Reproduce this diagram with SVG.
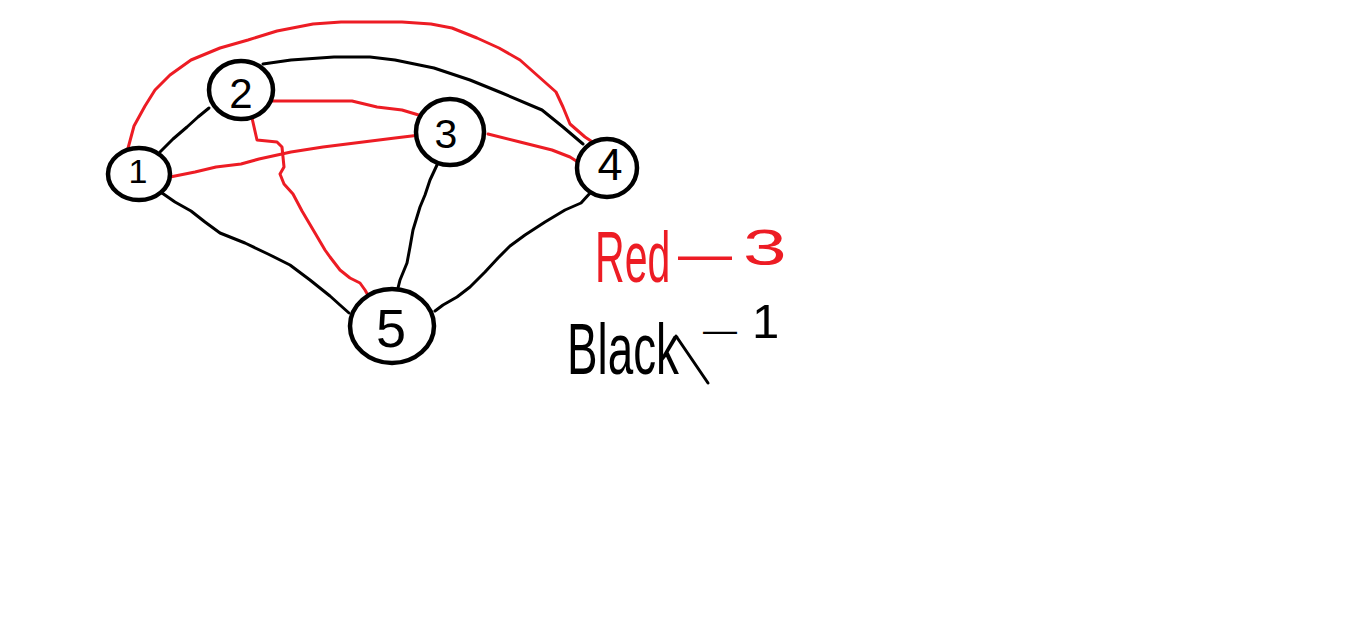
<svg xmlns="http://www.w3.org/2000/svg" width="1360" height="623" viewBox="0 0 1360 623">
<style>
.e{fill:none;stroke-width:3;stroke-linejoin:round;stroke-linecap:round}
.r{stroke:#ed1c24}
.k{stroke:#000}
.n{fill:#fff;stroke:#000;stroke-width:4.5}
.lbl{font-family:"Liberation Sans",Arial,sans-serif;fill:#000;text-anchor:middle}
.leg{font-family:"Liberation Sans",Arial,sans-serif}
.red{fill:#ed1c24}
.blk{fill:#000}
</style>
<rect width="1360" height="623" fill="#fff"/>
<g id="connectors">
<path id="e1-4" class="e r" d="M127,152 L134,126 L145,106 L155,90 L170,75 L191,60 L220,48 L248,40 L277,31 L313,24 L341,22 L402,22 L431,24 L452,28 L477,38 L499,48 L520,60 L538,76 L556,92 L563,107 L570,124 L585,137 L594,143"/>
<path id="e2-4" class="e k" d="M263,64 L291,60 L334,57 L370,57 L395,60 L434,68 L470,80 L502,93 L542,110 L563,127 L583,144"/>
<path id="e2-3" class="e r" d="M273,101 L352,101 L377,107 L402,110 L422,116"/>
<path id="e1-3" class="e r" d="M170,177 L195,172 L216,167 L241,164 L259,159 L291,152 L323,147 L363,142 L395,138 L420,135"/>
<path id="e3-4" class="e r" d="M488,134 L520,142 L552,150 L570,157 L581,164"/>
<path id="e1-2" class="e k" d="M160,152 L173,139 L187,127 L198,117 L209,108"/>
<path id="e2-5" class="e r" d="M252,118 L257,140 L277,142 L282,147 L284,167 L280,174 L284,184 L293,194 L302,211 L315,233 L325,250 L330,257 L340,270 L350,278 L360,283 L365,290 L369,297"/>
<path id="e3-5" class="e k" d="M437,165 L430,180 L425,195 L420,207 L413,230 L410,247 L407,263 L400,280 L398,288"/>
<path id="e4-5" class="e k" d="M591,192 L581,203 L565,210 L545,222 L525,235 L510,246 L498,258 L485,272 L470,287 L457,297 L443,305 L435,311"/>
<path id="e1-5" class="e k" d="M162,193 L175,202 L191,211 L205,222 L220,233 L245,243 L268,254 L290,265 L310,280 L330,296 L340,305 L349,313"/>
</g>
<g id="node1"><ellipse class="n" cx="139" cy="174" rx="31" ry="26"/><text class="lbl" x="138" y="183" font-size="34">1</text></g>
<g id="node2"><ellipse class="n" cx="241" cy="90" rx="32" ry="29"/><text class="lbl" x="241" y="108" font-size="42">2</text></g>
<g id="node3"><ellipse class="n" cx="450" cy="132" rx="34" ry="33"/><text class="lbl" x="446" y="148" font-size="41">3</text></g>
<g id="node4"><ellipse class="n" cx="607" cy="168" rx="30" ry="29"/><text class="lbl" x="610" y="180" font-size="45">4</text></g>
<g id="node5"><ellipse class="n" cx="392" cy="326" rx="42" ry="37"/><text class="lbl" x="391" y="347" font-size="54">5</text></g>
<g id="legend">
<text class="leg red" transform="translate(595,282) scale(0.57,1)" font-size="72">Red</text>
<text class="leg red" x="678" y="272" font-size="54">—</text>
<text class="leg red" transform="translate(743,265) scale(1.6,1)" font-size="49">3</text>
<text class="leg blk" transform="translate(567,374) scale(0.636,1)" font-size="72">Black</text>
<text class="leg blk" x="703" y="341" font-size="34">—</text>
<text class="leg blk" x="752" y="338" font-size="49">1</text>
<path class="e k" d="M676,336 L708,383"/>
</g>
</svg>
